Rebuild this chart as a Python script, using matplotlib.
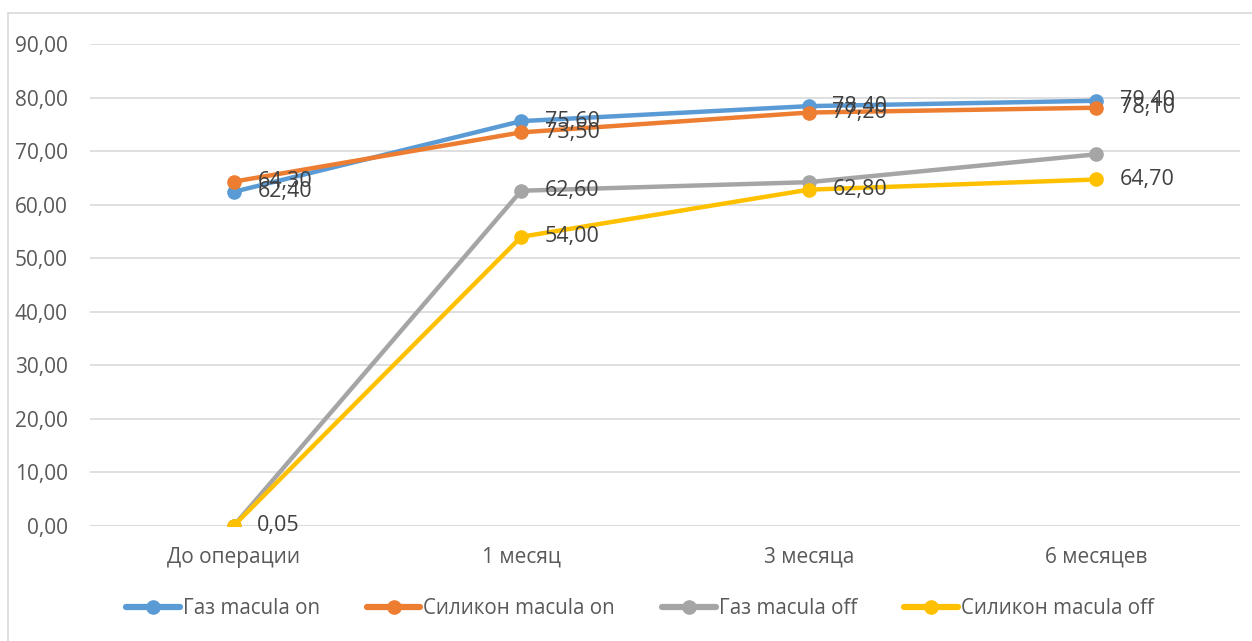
import matplotlib.pyplot as plt
from matplotlib.patches import Rectangle
from matplotlib.ticker import FuncFormatter

# periods after surgery
periods = ["До операции", "1 месяц", "3 месяца", "6 месяцев"]

gas_on = [62.40, 75.60, 78.40, 79.40]
silicone_on = [64.30, 73.50, 77.20, 78.10]
gas_off = [0.05, 62.60, 64.20, 69.40]
silicone_off = [0.05, 54.00, 62.80, 64.70]

series_names = ["Газ macula on", "Силикон macula on", "Газ macula off", "Силикон macula off"]
series_colors = ["#5B9BD5", "#ED7D31", "#A5A5A5", "#FFC000"]

# which points carry a value label (per series)
labelled = [
    [0, 1, 2, 3],
    [0, 1, 2, 3],
    [1],
    [0, 1, 2, 3],
]

plt.rcParams["font.family"] = ["Open Sans", "DejaVu Sans"]
text_color = "#595959"

fig = plt.figure(figsize=(12.52, 6.41), dpi=100)
ax = fig.add_axes([90 / 1252, 1 - 526 / 641, 1150 / 1252, 482 / 641])

x = list(range(len(periods)))
all_series = [gas_on, silicone_on, gas_off, silicone_off]
for vals, name, col in zip(all_series, series_names, series_colors):
    ax.plot(x, vals, color=col, lw=3.2, marker="o", markersize=9.5,
            solid_capstyle="round", label=name, zorder=3)

for vals, idx in zip(all_series, labelled):
    for i in idx:
        ax.annotate(f"{vals[i]:.2f}".replace(".", ","), (x[i], vals[i]),
                    xytext=(17, 0), textcoords="offset points",
                    va="center", ha="left", fontsize=15.5, color="#404040", zorder=4)

ax.set_xlim(-0.5, 3.5)
ax.set_ylim(0, 90)
ax.set_yticks(range(0, 91, 10))
ax.yaxis.set_major_formatter(FuncFormatter(lambda v, p: f"{v:.2f}".replace(".", ",")))
ax.set_xticks(x)
ax.set_xticklabels(periods)
ax.tick_params(axis="both", length=0, labelsize=15, colors=text_color)
ax.tick_params(axis="y", pad=16)
ax.tick_params(axis="x", pad=15)
ax.grid(axis="y", color="#D9D9D9", lw=1.2, zorder=0)
for s in ax.spines.values():
    s.set_visible(False)
ax.axhline(0, color="#D9D9D9", lw=1.2, zorder=1)

leg = ax.legend(loc="center", bbox_to_anchor=(0.5 - 25 / 1150, -(609 - 526) / 482),
                ncol=4, frameon=False, fontsize=14.8, handlelength=2.6,
                columnspacing=2.3, handletextpad=0.15, labelcolor=text_color)
for h in leg.legend_handles:
    h.set_linewidth(4.5)

# chart area border
fig.add_artist(Rectangle((8 / 1252, -0.1), 1.2, 1.1 - 13 / 641,
                         transform=fig.transFigure, fill=False,
                         edgecolor="#D9D9D9", lw=1.2))

fig.savefig("out.png", dpi=100, facecolor="white")
